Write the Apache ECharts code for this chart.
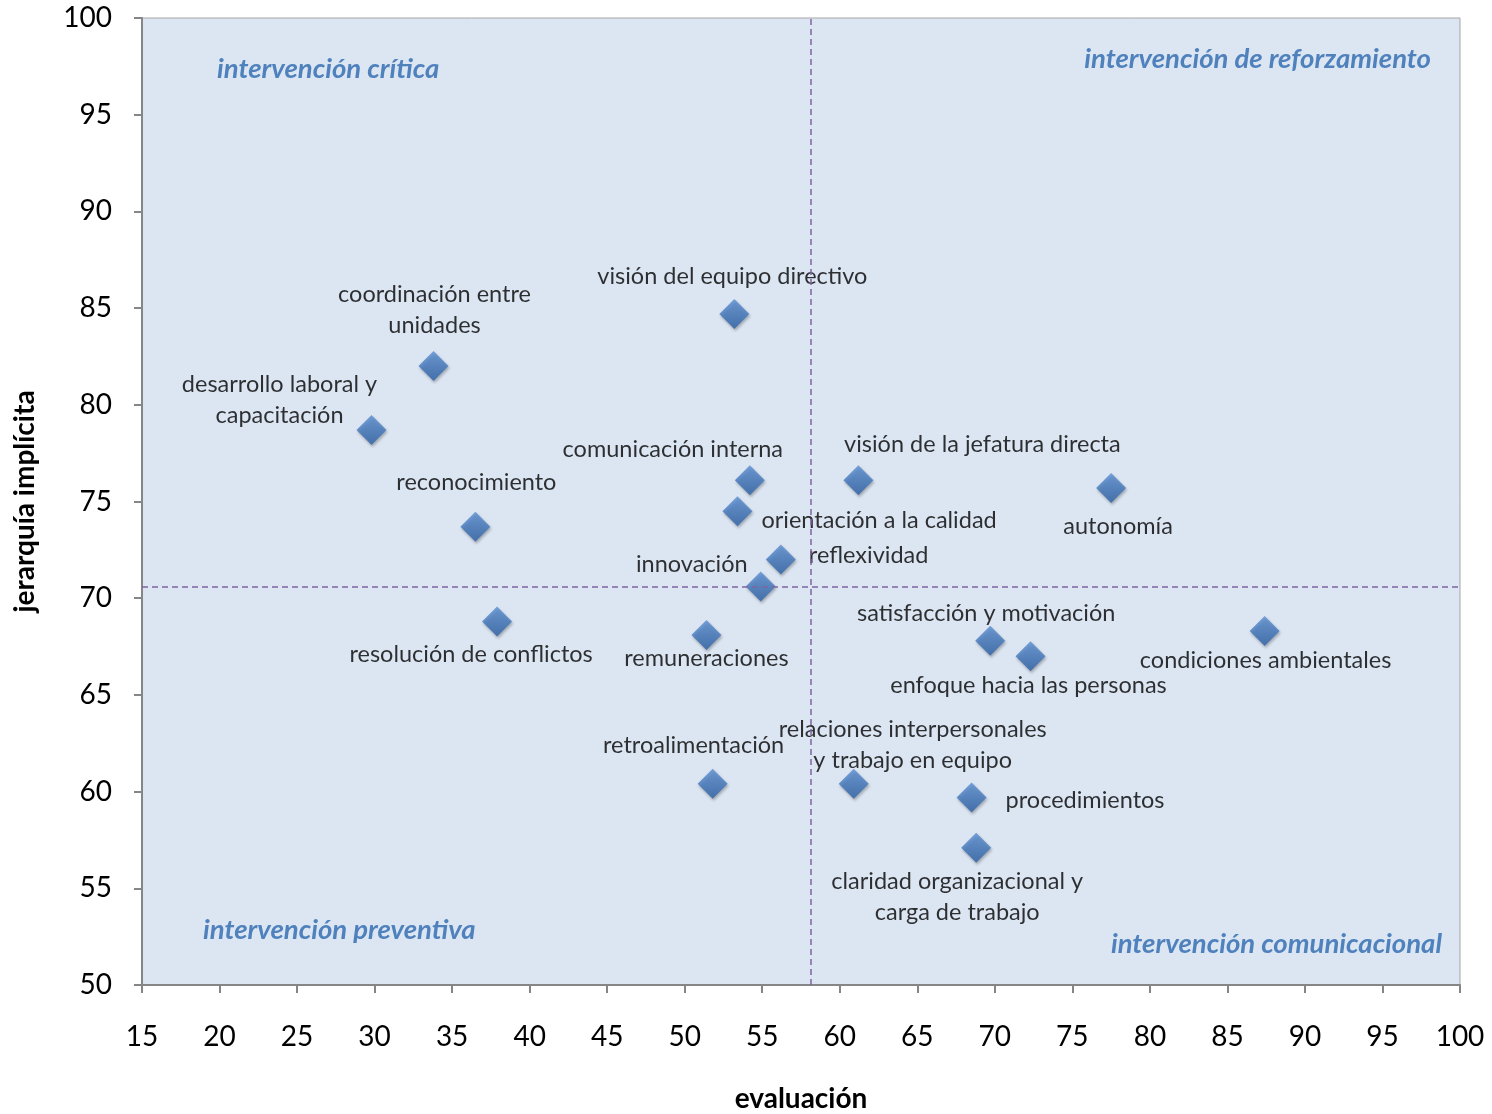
<!DOCTYPE html>
<html>
<head>
<meta charset="utf-8">
<script src="https://cdn.jsdelivr.net/npm/echarts@6/dist/echarts.min.js"></script>
<style>
html,body{margin:0;padding:0;background:#fff;}
#c{width:1492px;height:1114px;}
</style>
</head>
<body>
<div id="c"></div>
<script>
const names = [
  "visión del equipo directivo",
  "coordinación entre\nunidades",
  "desarrollo laboral y\ncapacitación",
  "reconocimiento",
  "resolución de conflictos",
  "comunicación interna",
  "orientación a la calidad",
  "reflexividad",
  "innovación",
  "remuneraciones",
  "visión de la jefatura directa",
  "autonomía",
  "satisfacción y motivación",
  "enfoque hacia las personas",
  "condiciones ambientales",
  "retroalimentación",
  "relaciones interpersonales\ny trabajo en equipo",
  "procedimientos",
  "claridad organizacional y\ncarga de trabajo"
];
const evaluacion = [53.2, 33.8, 29.8, 36.5, 37.9, 54.2, 53.4, 56.2, 54.9, 51.4, 61.2, 77.5, 69.7, 72.3, 87.4, 51.8, 60.9, 68.5, 68.8];
const jerarquia = [84.7, 82.0, 78.7, 73.7, 68.8, 76.1, 74.5, 72.0, 70.6, 68.1, 76.1, 75.7, 67.8, 67.0, 68.3, 60.4, 60.4, 59.7, 57.1];
const refX = 58.1;
const refY = 70.6;
const quadrants = ["intervención crítica", "intervención de reforzamiento", "intervención preventiva", "intervención comunicacional"];

// label placement: [align, dx, dy]
const labelPos = [
  ['center', -2, -37],
  ['center', 1, -56],
  ['center', -92, -30],
  ['center', 1, -44],
  ['center', -26, 33],
  ['center', -77, -31],
  ['left', 24, 9],
  ['left', 28, -4],
  ['right', -13, -22],
  ['center', 0, 23],
  ['center', 124, -36],
  ['center', 7, 38],
  ['center', -4, -27],
  ['center', -2, 29],
  ['center', 1, 29],
  ['center', -19, -38],
  ['center', 59, -39],
  ['left', 34, 3],
  ['center', -19, 49]
];

const FONT = 'Lato, "Open Sans", sans-serif';

const data = names.map((n, i) => ({
  name: n,
  value: [evaluacion[i], jerarquia[i]],
  label: {
    show: true,
    position: 'inside',
    align: labelPos[i][0],
    verticalAlign: 'middle',
    offset: [labelPos[i][1], labelPos[i][2]],
    formatter: '{b}',
    color: '#000',
    fontSize: 23.5,
    lineHeight: 31,
    fontFamily: FONT
  }
}));

const chart = echarts.init(document.getElementById('c'), null, {renderer: 'canvas'});
const qStyle = {fill: '#4f81bd', fontSize: 27.5, fontWeight: 'bold', fontStyle: 'italic', fontFamily: FONT, verticalAlign: 'middle', textVerticalAlign: 'middle'};
function qText(txt, x, y, align) {
  return {type: 'text', x: x, y: y, z: 10, style: Object.assign({}, qStyle, {text: txt, align: align, textAlign: align})};
}
chart.setOption({
  animation: false,
  backgroundColor: '#fff',
  grid: {left: 142, right: 32, top: 18, bottom: 129, containLabel: false, outerBoundsMode: 'none',
         show: true, backgroundColor: '#dce6f2', borderColor: '#a6a6a6', borderWidth: 1},
  xAxis: {
    type: 'value', min: 15, max: 100, interval: 5,
    name: 'evaluación', nameLocation: 'middle', nameGap: 100,
    nameTextStyle: {fontSize: 28, fontWeight: 'bold', fontFamily: FONT, color: '#000'},
    axisLine: {show: true, lineStyle: {color: '#868686', width: 2}},
    axisTick: {show: true, length: 8, lineStyle: {color: '#868686', width: 2}},
    axisLabel: {fontSize: 28, fontFamily: FONT, color: '#000', margin: 38},
    splitLine: {show: false}
  },
  yAxis: {
    type: 'value', min: 50, max: 100, interval: 5,
    name: 'jerarquía implícita', nameLocation: 'middle', nameGap: 103, nameRotate: 90,
    nameTextStyle: {fontSize: 28, fontWeight: 'bold', fontFamily: FONT, color: '#000'},
    axisLine: {show: true, lineStyle: {color: '#868686', width: 2}},
    axisTick: {show: true, length: 8, lineStyle: {color: '#868686', width: 2}},
    axisLabel: {fontSize: 28, fontFamily: FONT, color: '#000', margin: 30},
    splitLine: {show: false}
  },
  graphic: [
    qText(quadrants[0], 217, 69, 'left'),
    qText(quadrants[1], 1431, 59, 'right'),
    qText(quadrants[2], 203, 930, 'left'),
    qText(quadrants[3], 1442, 944, 'right')
  ],
  series: [{
    type: 'scatter',
    symbol: 'diamond',
    symbolSize: 30,
    itemStyle: {
      color: new echarts.graphic.LinearGradient(0, 0, 0, 1, [
        {offset: 0, color: '#5b8fd3'},
        {offset: 1, color: '#2d62a8'}
      ]),
      shadowColor: 'rgba(0,0,0,0.35)', shadowBlur: 3, shadowOffsetX: 1, shadowOffsetY: 2
    },
    data: data,
    markLine: {
      silent: true,
      symbol: ['none', 'none'],
      label: {show: false},
      lineStyle: {color: '#8064a2', type: [6, 4], width: 1.5},
      data: [{xAxis: refX}, {yAxis: refY}]
    },
    z: 3
  }]
});
</script>
</body>
</html>
